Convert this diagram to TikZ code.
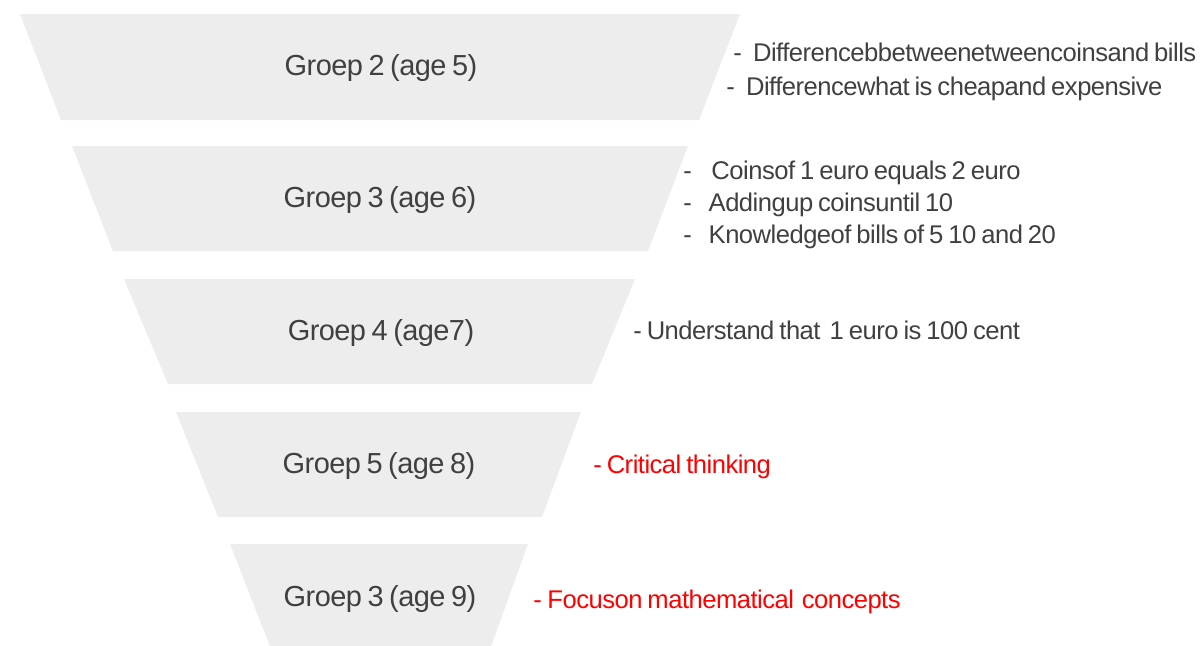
\documentclass[tikz,border=0pt]{standalone}
\usepackage{fontspec}
\setmainfont{Liberation Sans}[WordSpace=0.75, LetterSpace=-2]
\definecolor{band}{RGB}{237,237,237}
\definecolor{ink}{RGB}{64,64,64}
\definecolor{alert}{RGB}{255,0,0}
\begin{document}
\begin{tikzpicture}[x=0.025cm, y=-0.025cm,
  band/.style={fill=band},
  stage/.style={inner sep=0pt, text=ink, font=\fontsize{20.6}{24}\selectfont},
  note/.style={inner sep=0pt, anchor=base west, text=ink, font=\fontsize{18.2}{21}\selectfont},
  hot/.style={note, text=alert}]
\useasboundingbox (0,0) rectangle (1202,645);

% funnel bands, widest at the top
\fill[band] (20,14) -- (740,14) -- (699,120) -- (61,120) -- cycle;
\fill[band] (72,146) -- (688,146) -- (648,251) -- (113,251) -- cycle;
\fill[band] (124,279) -- (635,279) -- (592,384) -- (168,384) -- cycle;
\fill[band] (176,412) -- (581,412) -- (542,517) -- (218,517) -- cycle;
\fill[band] (230,544) -- (528,544) -- (490,649) -- (271,649) -- cycle;

% stage titles
\node[stage] (g2) at (381,68) {Groep 2 (age 5)};
\node[stage] (g3) at (380,200) {Groep 3 (age 6)};
\node[stage] (g4) at (381,333) {Groep 4 (age7)};
\node[stage] (g5) at (379,466) {Groep 5 (age 8)};
\node[stage] (g6) at (380,599) {Groep 3 (age 9)};

% learning goals per stage
\node[note] (n2a) at (733,61) {-\hspace{8pt}Differencebbetweenetweencoinsand bills};
\node[note] (n2b) at (726,95) {-\hspace{8pt}Differencewhat is cheapand expensive};
\node[note] (n3a) at (683,179) {-\hspace{14pt}Coinsof 1 euro equals 2 euro};
\node[note] (n3b) at (683,211) {-\hspace{12pt}Addingup coinsuntil 10};
\node[note] (n3c) at (683,243) {-\hspace{12pt}Knowledgeof bills of 5 10 and 20};
\node[note] (n4) at (633,339) {- Understand that\hspace{3pt} 1 euro is 100 cent};
\node[hot] (n5) at (593,473) {- Critical thinking};
\node[hot] (n6) at (533,608) {-\hspace{4pt}Focuson mathematical\hspace{2pt} concepts};
\end{tikzpicture}
\end{document}
